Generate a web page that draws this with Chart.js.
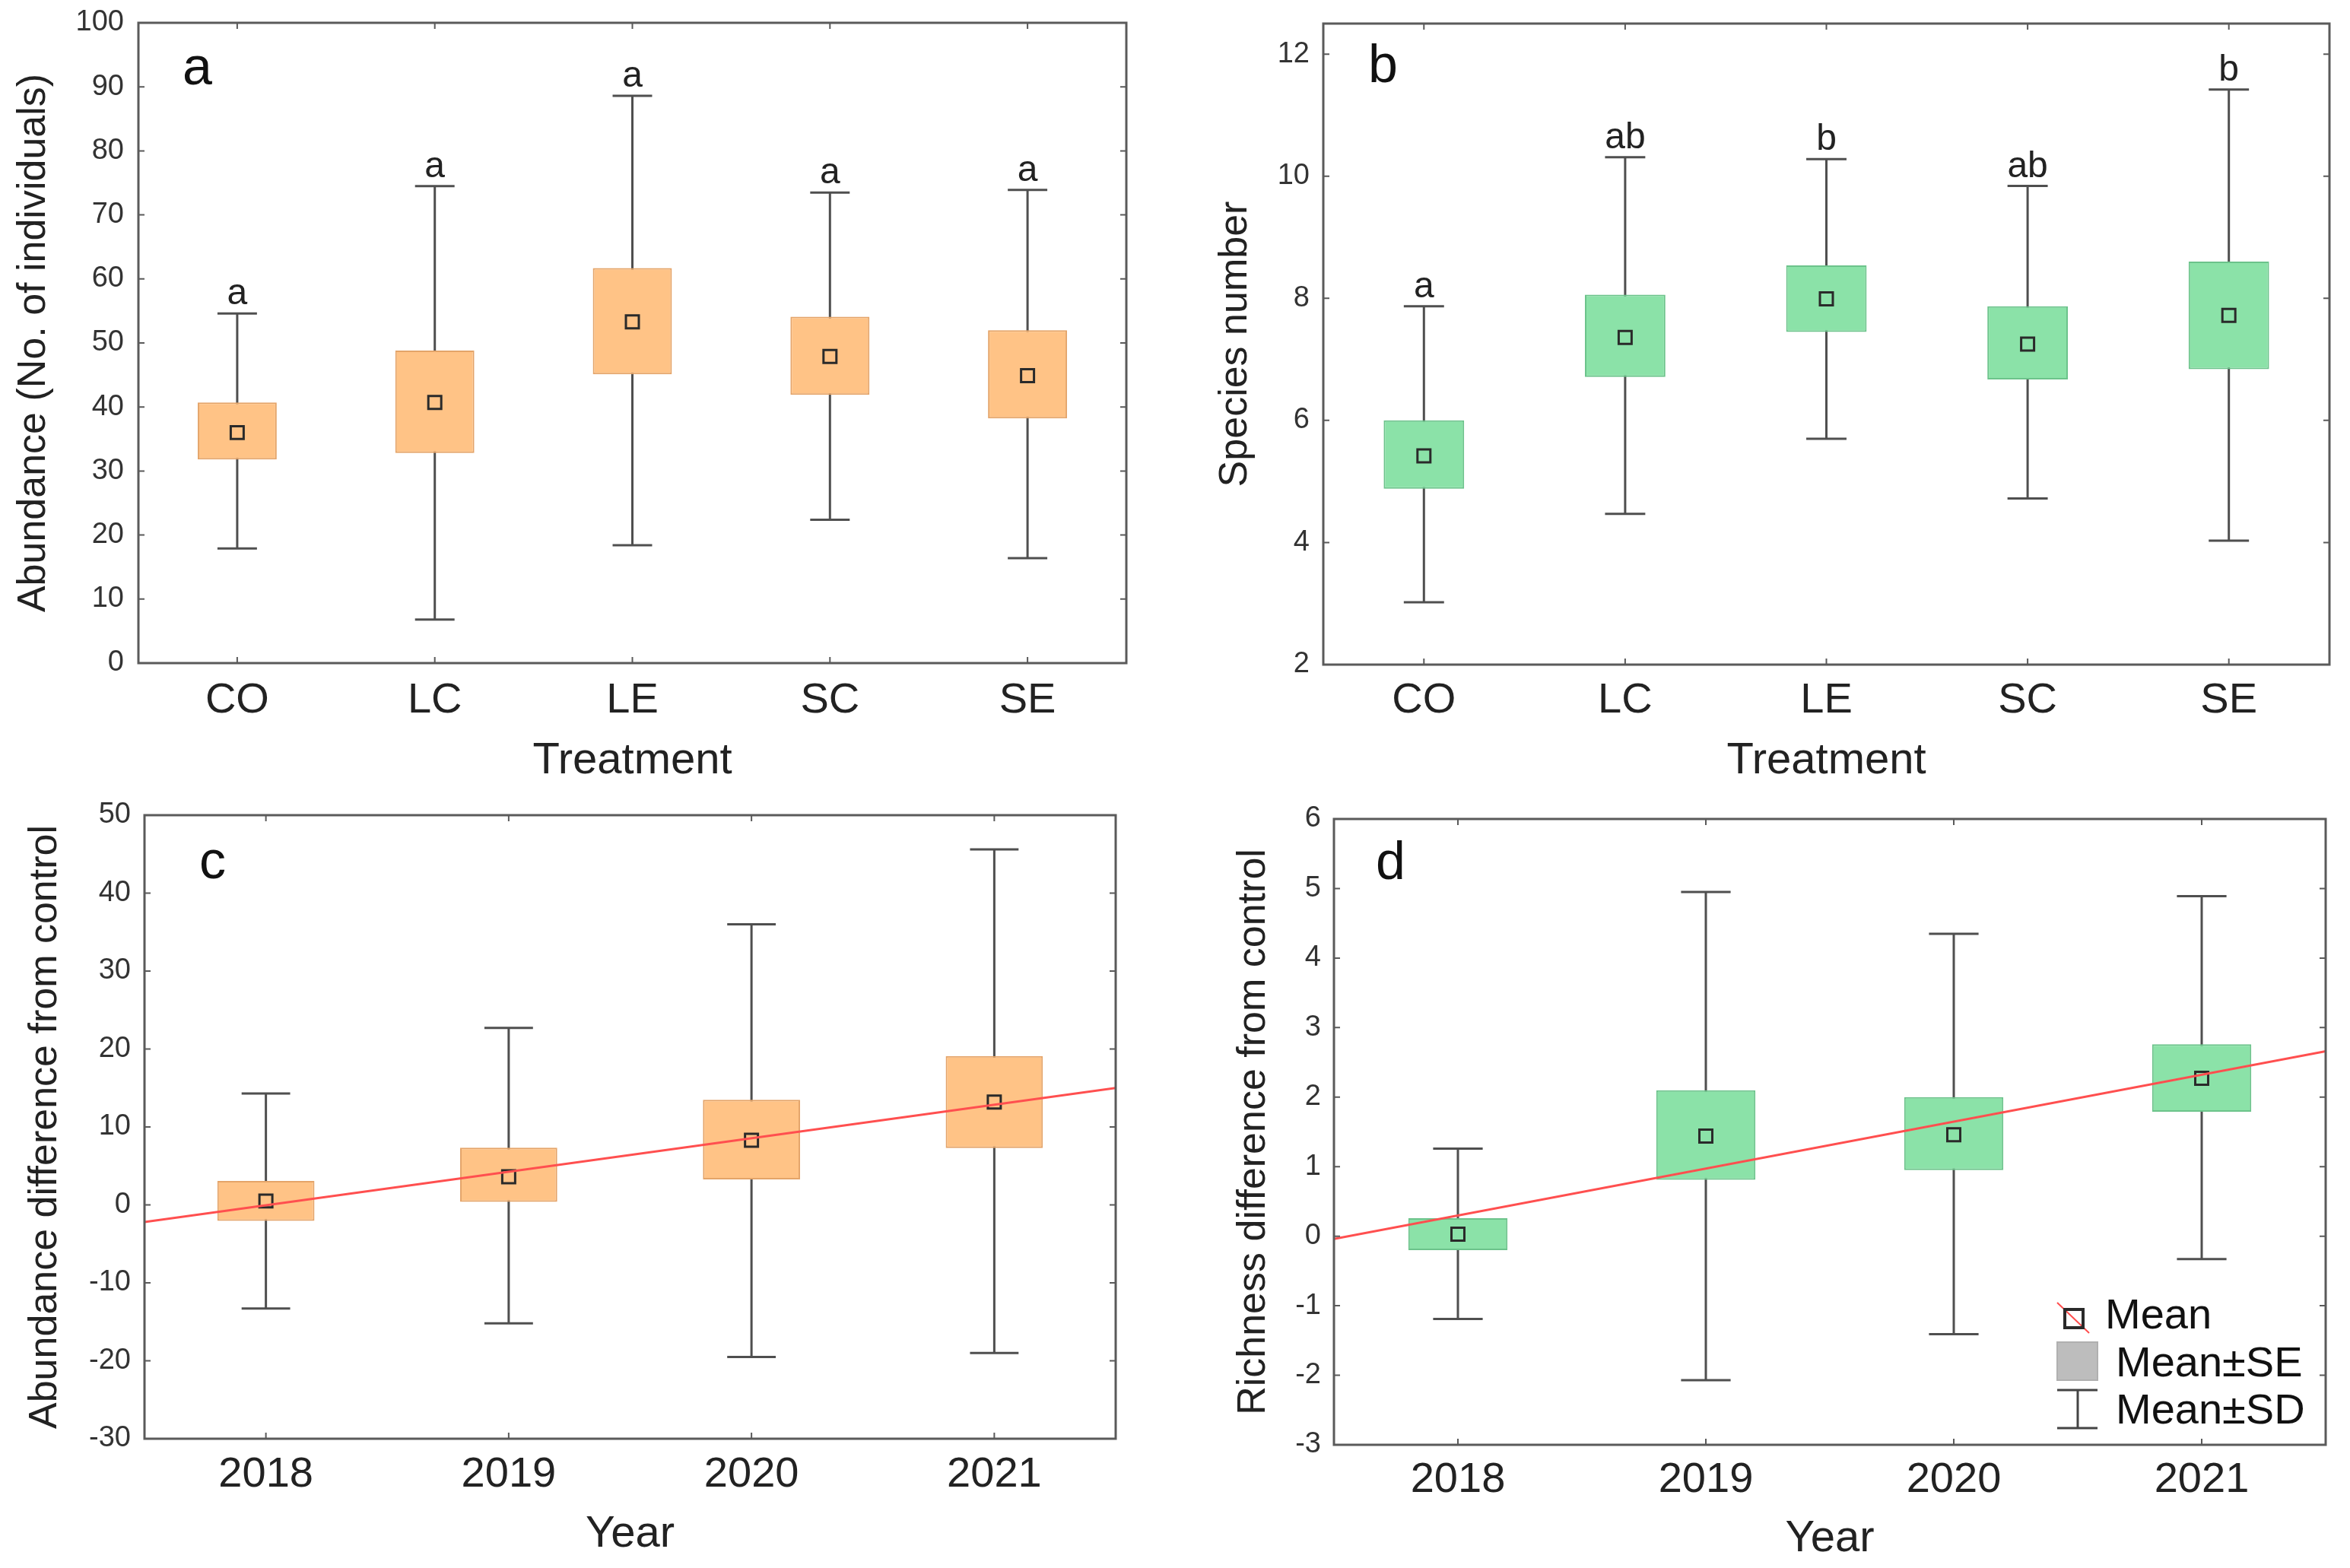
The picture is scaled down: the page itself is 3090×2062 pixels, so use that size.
<!DOCTYPE html>
<html>
<head>
<meta charset="utf-8">
<script src="https://cdn.jsdelivr.net/npm/chart.js@4.4.1/dist/chart.umd.min.js"></script>
<style>
  html, body { margin: 0; padding: 0; background: #fff; }
  #wrap { position: relative; width: 3090px; height: 2062px; background: #fff; }
  canvas { position: absolute; }
</style>
</head>
<body>
<div id="wrap">
  <canvas id="pa" width="1545" height="1031" style="left:0;top:0"></canvas>
  <canvas id="pb" width="1545" height="1031" style="left:1545px;top:0"></canvas>
  <canvas id="pc" width="1545" height="1031" style="left:0;top:1031px"></canvas>
  <canvas id="pd" width="1545" height="1031" style="left:1545px;top:1031px"></canvas>
</div>
<script>
const treatments = ['CO', 'LC', 'LE', 'SC', 'SE'];
const years = ['2018', '2019', '2020', '2021'];

// panel a: abundance by treatment (mean, +-SE box, +-SD whisker)
const abSdLow = [17.9, 6.8, 18.4, 22.4, 16.4];
const abSeLow = [31.8, 32.8, 45.1, 41.9, 38.2];
const abMean = [36.0, 40.7, 53.3, 47.9, 44.9];
const abSeHigh = [40.7, 48.8, 61.7, 54.1, 52.0];
const abSdHigh = [54.6, 74.5, 88.6, 73.5, 73.9];
const abLetters = ['a', 'a', 'a', 'a', 'a'];
const abTicks = [0, 10, 20, 30, 40, 50, 60, 70, 80, 90, 100];

// panel b: species number by treatment
const spSdLow = [3.02, 4.47, 5.70, 4.72, 4.03];
const spSeLow = [4.88, 6.71, 7.45, 6.67, 6.84];
const spMean = [5.42, 7.36, 7.99, 7.25, 7.72];
const spSeHigh = [6.00, 8.06, 8.54, 7.87, 8.60];
const spSdHigh = [7.87, 10.31, 10.28, 9.84, 11.42];
const spLetters = ['a', 'ab', 'b', 'ab', 'b'];
const spTicks = [2, 4, 6, 8, 10, 12];

// panel c: abundance difference from control by year
const adSdLow = [-13.3, -15.2, -19.5, -19.0];
const adSeLow = [-2.05, 0.38, 3.26, 7.3];
const adMean = [0.5, 3.6, 8.3, 13.2];
const adSeHigh = [3.07, 7.35, 13.5, 19.1];
const adSdHigh = [14.3, 22.7, 36.0, 45.6];
const adTrend = [-2.2, 15.0]; // fitted line at the two ends of the x range
const adTicks = [-30, -20, -10, 0, 10, 20, 30, 40, 50];

// panel d: richness difference from control by year
const rdSdLow = [-1.19, -2.07, -1.41, -0.33];
const rdSeLow = [-0.20, 0.81, 0.95, 1.79];
const rdMean = [0.03, 1.44, 1.46, 2.27];
const rdSeHigh = [0.26, 2.10, 2.00, 2.76];
const rdSdHigh = [1.26, 4.95, 4.35, 4.89];
const rdTrend = [-0.04, 2.66];
const rdTicks = [-3, -2, -1, 0, 1, 2, 3, 4, 5, 6];

const legendLabels = ['Mean', 'Mean\u00b1SE', 'Mean\u00b1SD'];

const FONT = "'Liberation Sans', Arial, sans-serif";
const ORANGE = { fill: '#ffc386', edge: '#e4a469' };
const GREEN = { fill: '#8be2a8', edge: '#6cc38b' };

function makePanel(p) {
  const n = p.labels.length;

  const boxPlot = {
    id: 'boxPlot',
    beforeDatasetsDraw(chart) {
      const { ctx } = chart;
      const x = chart.scales.x, y = chart.scales.y;
      const bars = chart.getDatasetMeta(0).data;
      ctx.save();
      ctx.strokeStyle = '#4f4f4f';
      ctx.lineWidth = 3;
      for (let i = 0; i < n; i++) {
        const px = x.getPixelForValue(i);
        const half = bars[i].width / 4;
        const lo = y.getPixelForValue(p.sdLow[i]);
        const hi = y.getPixelForValue(p.sdHigh[i]);
        ctx.beginPath();
        ctx.moveTo(px, lo); ctx.lineTo(px, hi);
        ctx.moveTo(px - half, lo); ctx.lineTo(px + half, lo);
        ctx.moveTo(px - half, hi); ctx.lineTo(px + half, hi);
        ctx.stroke();
      }
      ctx.restore();
    },
    afterDraw(chart) {
      const { ctx, chartArea: a } = chart;
      const x = chart.scales.x, y = chart.scales.y;
      ctx.save();
      // frame with inward ticks
      ctx.strokeStyle = '#5a5a5a';
      ctx.lineWidth = 3;
      ctx.strokeRect(a.left, a.top, a.right - a.left, a.bottom - a.top);
      ctx.lineWidth = 2;
      ctx.beginPath();
      y.ticks.forEach(t => {
        const py = y.getPixelForValue(t.value);
        ctx.moveTo(a.left, py); ctx.lineTo(a.left + 8, py);
        ctx.moveTo(a.right, py); ctx.lineTo(a.right - 8, py);
      });
      for (let i = 0; i < n; i++) {
        const px = x.getPixelForValue(i);
        ctx.moveTo(px, a.top); ctx.lineTo(px, a.top + 8);
        ctx.moveTo(px, a.bottom); ctx.lineTo(px, a.bottom - 8);
      }
      ctx.stroke();

      // significance letters
      ctx.fillStyle = '#222';
      if (p.letters) {
        ctx.font = '48px ' + FONT;
        ctx.textAlign = 'center';
        ctx.textBaseline = 'alphabetic';
        p.letters.forEach((s, i) => {
          ctx.fillText(s, x.getPixelForValue(i), y.getPixelForValue(p.sdHigh[i]) - 12);
        });
      }

      // panel tag
      ctx.font = '70px ' + FONT;
      ctx.textAlign = 'left';
      ctx.textBaseline = 'alphabetic';
      ctx.fillStyle = '#111';
      ctx.fillText(p.tag, a.left + p.tagDx, a.top + p.tagDy);

      if (p.legend) {
        const r = a.right, b = a.bottom;
        // mean marker with red trend stroke
        ctx.strokeStyle = '#ff4d4d';
        ctx.lineWidth = 2;
        ctx.beginPath();
        ctx.moveTo(r - 353, b - 187); ctx.lineTo(r - 311, b - 147);
        ctx.stroke();
        ctx.strokeStyle = '#2a2a2a';
        ctx.lineWidth = 4;
        ctx.strokeRect(r - 343, b - 178, 24, 24);
        // SE box
        ctx.fillStyle = '#bdbdbd';
        ctx.strokeStyle = '#b0b0b0';
        ctx.lineWidth = 2;
        ctx.fillRect(r - 353, b - 135, 53, 50);
        ctx.strokeRect(r - 353, b - 135, 53, 50);
        // SD whisker
        ctx.strokeStyle = '#444';
        ctx.lineWidth = 3;
        ctx.beginPath();
        ctx.moveTo(r - 353, b - 72); ctx.lineTo(r - 300, b - 72);
        ctx.moveTo(r - 353, b - 22); ctx.lineTo(r - 300, b - 22);
        ctx.moveTo(r - 326, b - 72); ctx.lineTo(r - 326, b - 22);
        ctx.stroke();
        ctx.fillStyle = '#111';
        ctx.font = '56px ' + FONT;
        ctx.fillText(legendLabels[0], r - 290, b - 153);
        ctx.fillText(legendLabels[1], r - 276, b - 90);
        ctx.fillText(legendLabels[2], r - 276, b - 28);
      }
      ctx.restore();
    }
  };

  const datasets = [
    {
      type: 'bar',
      data: p.seLow.map((v, i) => [v, p.seHigh[i]]),
      backgroundColor: p.color.fill,
      borderColor: p.color.edge,
      borderWidth: 2,
      borderSkipped: false,
      grouped: false,
      categoryPercentage: 1,
      barPercentage: 0.4,
      order: 2
    },
    {
      type: 'line',
      data: p.mean,
      showLine: false,
      pointStyle: 'rect',
      pointRadius: 12,
      pointBorderWidth: 3,
      pointBorderColor: '#2a2a2a',
      pointBackgroundColor: 'rgba(0,0,0,0)',
      order: 1
    }
  ];
  const noPad = s => { s.paddingTop = 0; s.paddingBottom = 0; s.paddingLeft = 0; s.paddingRight = 0; };
  const scales = {
    x: {
      type: 'category',
      labels: p.labels,
      offset: true,
      grid: { display: false, drawTicks: false },
      border: { display: false },
      ticks: { color: '#222', font: { family: FONT, size: 56 }, padding: p.xTickPad, maxRotation: 0 },
      title: { display: true, text: p.xTitle, color: '#222', font: { family: FONT, size: 58 }, padding: { top: 0, bottom: p.xTitlePad } },
      afterFit: s => { s.height = p.xHeight; noPad(s); }
    },
    y: {
      type: 'linear',
      min: p.min,
      max: p.max,
      grid: { display: false, drawTicks: false },
      border: { display: false },
      afterBuildTicks: s => { s.ticks = p.ticks.map(v => ({ value: v })); },
      ticks: { color: '#333', font: { family: FONT, size: 38 }, padding: p.yTickPad },
      title: { display: true, text: p.yTitle, color: '#222', font: { family: FONT, size: 52 }, padding: { top: p.yTitlePad, bottom: 0 } },
      afterFit: s => { s.width = p.yWidth; noPad(s); }
    }
  };
  if (p.trend) {
    datasets.push({
      type: 'line',
      xAxisID: 'xt',
      data: [{ x: -0.5, y: p.trend[0] }, { x: n - 0.5, y: p.trend[1] }],
      borderColor: '#ff4f4f',
      borderWidth: 3,
      pointRadius: 0,
      order: 0
    });
    scales.xt = { type: 'linear', display: false, offset: false, min: -0.5, max: n - 0.5 };
  }

  new Chart(document.getElementById(p.id), {
    type: 'bar',
    data: { labels: p.labels, datasets },
    options: {
      responsive: false,
      animation: false,
      events: [],
      layout: { padding: { left: 0, top: p.padTop, right: p.padRight, bottom: 0 } },
      plugins: { legend: { display: false }, tooltip: { enabled: false } },
      scales
    },
    plugins: [boxPlot]
  });
}

makePanel({
  id: 'pa', labels: treatments, color: ORANGE,
  sdLow: abSdLow, seLow: abSeLow, mean: abMean, seHigh: abSeHigh, sdHigh: abSdHigh,
  letters: abLetters, ticks: abTicks, min: 0, max: 100,
  yTitle: 'Abundance (No. of individuals)', xTitle: 'Treatment', tag: 'a',
  padTop: 30, padRight: 64, yWidth: 182, xHeight: 159,
  yTitlePad: 13, xTitlePad: -5, yTickPad: 19, xTickPad: 16,
  tagDx: 58, tagDy: 81
});

makePanel({
  id: 'pb', labels: treatments, color: GREEN,
  sdLow: spSdLow, seLow: spSeLow, mean: spMean, seHigh: spSeHigh, sdHigh: spSdHigh,
  letters: spLetters, ticks: spTicks, min: 2, max: 12.5,
  yTitle: 'Species number', xTitle: 'Treatment', tag: 'b',
  padTop: 31, padRight: 27, yWidth: 195, xHeight: 157,
  yTitlePad: 48, xTitlePad: -5, yTickPad: 18, xTickPad: 14,
  tagDx: 59, tagDy: 77
});

makePanel({
  id: 'pc', labels: years, color: ORANGE,
  sdLow: adSdLow, seLow: adSeLow, mean: adMean, seHigh: adSeHigh, sdHigh: adSdHigh,
  trend: adTrend, ticks: adTicks, min: -30, max: 50,
  yTitle: 'Abundance difference from control', xTitle: 'Year', tag: 'c',
  padTop: 41, padRight: 78, yWidth: 190, xHeight: 170,
  yTitlePad: 28, xTitlePad: 9, yTickPad: 18, xTickPad: 14,
  tagDx: 72, tagDy: 83
});

makePanel({
  id: 'pd', labels: years, color: GREEN,
  sdLow: rdSdLow, seLow: rdSeLow, mean: rdMean, seHigh: rdSeHigh, sdHigh: rdSdHigh,
  trend: rdTrend, ticks: rdTicks, min: -3, max: 6,
  yTitle: 'Richness difference from control', xTitle: 'Year', tag: 'd',
  padTop: 46, padRight: 32, yWidth: 209, xHeight: 162,
  yTitlePad: 72, xTitlePad: 3, yTickPad: 17, xTickPad: 13,
  tagDx: 55, tagDy: 79, legend: true
});
</script>
</body>
</html>
